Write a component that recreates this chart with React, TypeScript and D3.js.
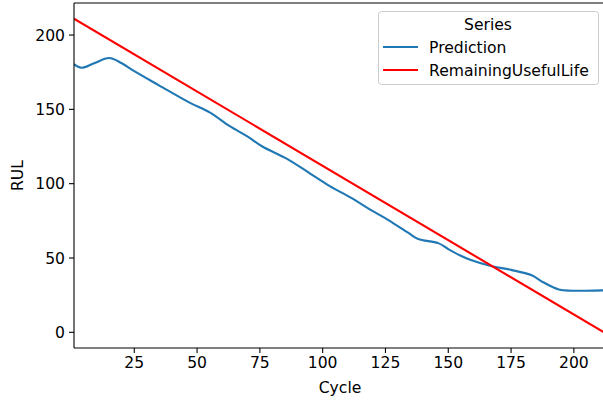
import React from "react";
import * as d3 from "d3";

const predCycles = [1, 4, 9, 15, 20, 25, 35, 47, 55, 63, 70, 76, 86, 95, 103, 111, 120, 126, 134, 138, 146, 150, 155, 159, 167, 175, 183, 188, 194, 199, 205, 212];
const predValues = [180.4, 178, 181, 184.5, 181, 175.7, 166, 154.5, 148, 138.7, 131.8, 125, 116.5, 106.8, 98.2, 90.8, 81.5, 75.7, 67, 62.8, 60, 56, 51.5, 48.6, 44.6, 42, 38.5, 33.5, 28.8, 28, 28, 28.2];
const rulCycles = [1, 212];
const rulValues = [211, 0];
const xTicks = [25, 50, 75, 100, 125, 150, 175, 200];
const yTicks = [0, 50, 100, 150, 200];
const seriesNames = ["Prediction", "RemainingUsefulLife"];
const seriesColors = ["#1f77b4", "#ff0000"];

const W = 603, H = 400;
const L = 74, R = 604, T = 3, B = 348;
const FONT = "DejaVu Sans";
const FS = 15.6;

export default function App() {
  const x = d3.scaleLinear().domain([1, 212]).range([L, R]);
  const y = d3.scaleLinear().domain([-10.55, 221.55]).range([B, T]);
  const pred = predCycles.map((c, i) => [c, predValues[i]] as [number, number]);
  const rul = rulCycles.map((c, i) => [c, rulValues[i]] as [number, number]);
  const line = d3.line<[number, number]>().x(d => x(d[0])).y(d => y(d[1])).curve(d3.curveCatmullRom.alpha(0.5));
  const lineStraight = d3.line<[number, number]>().x(d => x(d[0])).y(d => y(d[1]));

  return (
    <svg width={W} height={H} style={{ position: "absolute", left: 0, top: 0 }} fontFamily={FONT}>
      <rect x={0} y={0} width={W} height={H} fill="#fff" />
      <defs>
        <clipPath id="plot"><rect x={L} y={T} width={R - L} height={B - T} /></clipPath>
      </defs>
      <g clipPath="url(#plot)">
        <path d={line(pred) || ""} fill="none" stroke={seriesColors[0]} strokeWidth={2.1} />
        <path d={lineStraight(rul) || ""} fill="none" stroke={seriesColors[1]} strokeWidth={2.1} />
      </g>
      <g stroke="#000" strokeWidth={1.1} fill="none">
        <line x1={L} x2={L} y1={T} y2={B} />
        <line x1={L} x2={R} y1={B} y2={B} />
        <line x1={L} x2={R} y1={T} y2={T} />
        <line x1={R} x2={R} y1={T} y2={B} />
      </g>
      {xTicks.map(t => (
        <g key={"x" + t}>
          <line x1={x(t)} x2={x(t)} y1={B} y2={B + 5} stroke="#000" strokeWidth={1.1} />
          <text x={x(t)} y={B + 19.5} fontSize={FS} textAnchor="middle" fill="#000">{t}</text>
        </g>
      ))}
      {yTicks.map(t => (
        <g key={"y" + t}>
          <line x1={L - 5} x2={L} y1={y(t)} y2={y(t)} stroke="#000" strokeWidth={1.1} />
          <text x={L - 9} y={y(t)} dy="0.36em" fontSize={FS} textAnchor="end" fill="#000">{t}</text>
        </g>
      ))}
      <text x={(L + R) / 2 + 1} y={393} fontSize={FS} textAnchor="middle" fill="#000">Cycle</text>
      <text transform={`translate(23,${(T + B) / 2}) rotate(-90)`} fontSize={FS} textAnchor="middle" fill="#000">RUL</text>
      <g>
        <rect x={378.5} y={11.5} width={220} height={73} rx={3} fill="#fff" fillOpacity={0.8} stroke="#cccccc" strokeWidth={1} />
        <text x={488} y={24} dy="0.36em" fontSize={FS} textAnchor="middle" fill="#000">Series</text>
        {seriesNames.map((n, i) => (
          <g key={n}>
            <line x1={383} x2={418} y1={47 + i * 23} y2={47 + i * 23} stroke={seriesColors[i]} strokeWidth={2.1} />
            <text x={429} y={47 + i * 23} dy="0.36em" fontSize={FS} fill="#000">{n}</text>
          </g>
        ))}
      </g>
    </svg>
  );
}
